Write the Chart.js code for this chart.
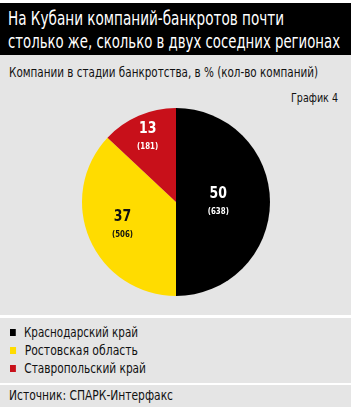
<!DOCTYPE html>
<html>
<head>
<meta charset="utf-8">
<script src="https://cdn.jsdelivr.net/npm/chart.js@4"></script>
<style>
  body { margin: 0; background: #fff; font-family: "DejaVu Sans", sans-serif; font-stretch: condensed; }
  #wrap { position: relative; width: 351px; height: 416px; overflow: hidden; }
  .blk { position: absolute; left: 0; width: 351px; }
  .t { position: absolute; white-space: nowrap; transform-origin: 0 0; }
  #head { top: 3px; height: 52px; background: #000; color: #fff; }
  #h1 { left: 8px; top: 3px; font-size: 20px; }
  #h2 { left: 8px; top: 26px; font-size: 20px; }
  #main { top: 55px; height: 260px; background: #e5e5e5; }
  #leg { top: 318px; height: 65px; background: #e5e5e5; }
  #src { top: 385px; height: 22px; background: #e5e5e5; }
  #srct { left: 9px; top: 2px; font-size: 14px; color: #111; }
  #sub { left: 9px; top: 9px; font-size: 14px; color: #111; }
  #num { left: 291px; top: 35px; font-size: 13px; color: #111; }
  #pie { position: absolute; left: 76px; top: 47px; width: 200px; height: 200px; }
  .li { left: 10px; font-size: 14px; color: #111; height: 18px; line-height: 18px; }
  .li span { display: inline-block; width: 7px; height: 7px; margin-right: 10px; vertical-align: 1px; }
</style>
</head>
<body>
<div id="wrap">
  <div class="blk" id="head">
    <div class="t" id="h1" data-w="276">На Кубани компаний-банкротов почти</div>
    <div class="t" id="h2" data-w="332">столько же, сколько в двух соседних регионах</div>
  </div>
  <div class="blk" id="main">
    <div class="t" id="sub" data-w="309">Компании в стадии банкротства, в % (кол-во компаний)</div>
    <div class="t" id="num" data-w="47">График 4</div>
    <div id="pie"><canvas id="grafico" width="200" height="200"></canvas></div>
  </div>
  <div class="blk" id="leg"></div>
  <div class="blk" id="src"><div class="t" id="srct" data-w="164">Источник: СПАРК-Интерфакс</div></div>
</div>
<script>
// Dados do gráfico
const regioes = ['Краснодарский край', 'Ростовская область', 'Ставропольский край'];
const percentuais = [50, 37, 13];
const quantidades = [638, 506, 181];
const cores = ['#000000', '#ffdc00', '#c8101a'];
const coresTexto = ['#ffffff', '#111111', '#ffffff'];
const largurasLegenda = [128, 128, 136];

// Legenda em HTML
const leg = document.getElementById('leg');
regioes.forEach((r, i) => {
    const d = document.createElement('div');
    d.className = 't li';
    d.style.top = (5 + i * 18) + 'px';
    d.dataset.w = largurasLegenda[i];
    d.innerHTML = '<span style="background:' + cores[i] + '"></span>' + r;
    leg.appendChild(d);
});

// Comprime os textos para a largura do original (fonte condensada)
document.querySelectorAll('.t').forEach(el => {
    const w = el.getBoundingClientRect().width;
    const alvo = +el.dataset.w;
    if (w > alvo) el.style.transform = 'scaleX(' + (alvo / w) + ')';
});

// Rótulos dentro das fatias
const raioRotulo = [0.45, 0.62, 0.76];
const rotulos = {
    id: 'rotulos',
    afterDatasetsDraw(chart) {
        const ctx = chart.ctx;
        chart.getDatasetMeta(0).data.forEach((arc, i) => {
            const meio = (arc.startAngle + arc.endAngle) / 2;
            const r = arc.outerRadius * raioRotulo[i];
            const x = arc.x + Math.cos(meio) * r;
            const y = arc.y + Math.sin(meio) * r;
            ctx.save();
            ctx.translate(x, y);
            ctx.scale(0.78, 1);
            ctx.fillStyle = coresTexto[i];
            ctx.textAlign = 'center';
            ctx.textBaseline = 'middle';
            ctx.font = '600 16px "DejaVu Sans", sans-serif';
            ctx.fillText(percentuais[i], 0, -8);
            ctx.font = 'bold 9px "DejaVu Sans", sans-serif';
            ctx.fillText('(' + quantidades[i] + ')', 0, 10);
            ctx.restore();
        });
    }
};

const meuGrafico = new Chart(document.getElementById('grafico').getContext('2d'), {
    type: 'pie',
    data: {
        labels: regioes,
        datasets: [{
            data: percentuais,
            backgroundColor: cores,
            borderWidth: 0,
        }]
    },
    options: {
        responsive: false,
        animation: false,
        layout: { padding: 6 },
        plugins: {
            legend: { display: false },
            tooltip: { enabled: false },
        },
    },
    plugins: [rotulos]
});
</script>
</body>
</html>
